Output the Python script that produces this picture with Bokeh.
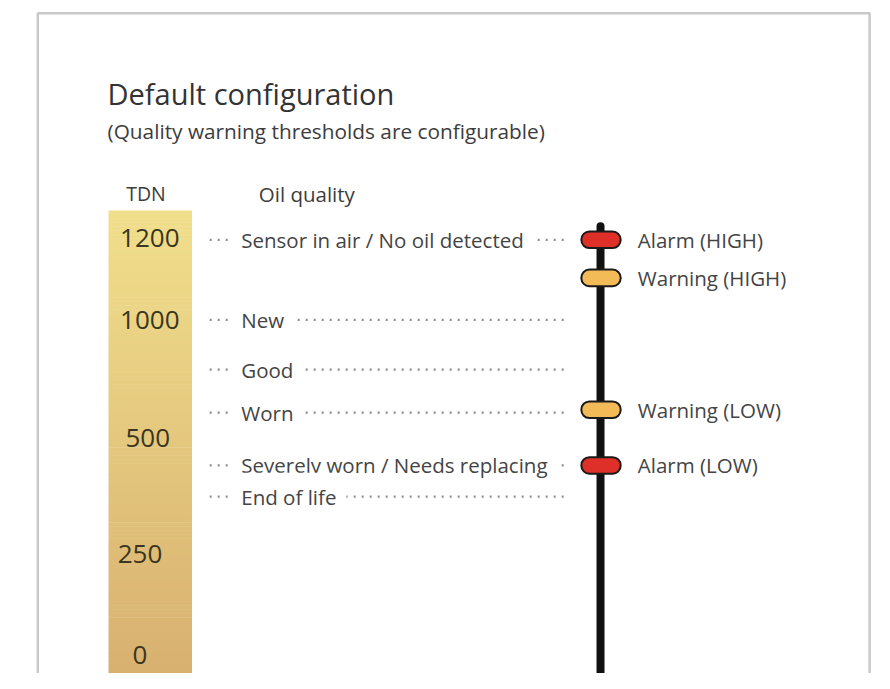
import numpy as np
from bokeh.plotting import figure
from bokeh.models import Range1d, ColumnDataSource
from bokeh.core.properties import value
from bokeh.embed import file_html
from bokeh.resources import INLINE

# ---------------- data ----------------
title_text = "Default configuration"
subtitle_text = "(Quality warning thresholds are configurable)"
col_headers = ["TDN", "Oil quality"]
tdn_ticks = ["1200", "1000", "500", "250", "0"]
quality_levels = ["Sensor in air / No oil detected", "New", "Good", "Worn",
                  "Severely worn / Needs replacing", "End of life"]
thresholds = ["Alarm (HIGH)", "Warning (HIGH)", "Warning (LOW)", "Alarm (LOW)"]
threshold_kind = ["alarm", "warning", "warning", "alarm"]

# ---------------- layout (reference pixel coordinates) ----------------
tick_y = [243, 327, 448, 567, 670]
tick_x = [152, 152, 150, 142, 142]
level_y = [245, 327, 378, 422, 476, 508]
threshold_y = [245, 284, 419, 476]
kind_color = {"alarm": "#de2f28", "warning": "#f2bb57"}

FONT = "Open Sans"
W, H = 874, 673
p = figure(width=W, height=H, output_backend="svg", toolbar_location=None,
           x_range=Range1d(0, 890), y_range=Range1d(689, 0),
           min_border=0, outline_line_color=None)
p.axis.visible = False
p.grid.visible = False
p.background_fill_color = "white"

# frame
p.quad(left=38, right=885, top=13, bottom=720, fill_color=None,
       line_color="#c9c9c9", line_width=2.5)

# gradient bar
n = 120
edges = np.linspace(215, 700, n + 1)
c0 = np.array([241, 223, 140])
c1 = np.array([216, 176, 112])
cols = []
for i in range(n):
    t = i / (n - 1)
    c = (c0 * (1 - t) + c1 * t).astype(int)
    cols.append("#%02x%02x%02x" % tuple(c))
p.quad(left=110, right=195, top=edges[:-1], bottom=edges[1:] + 0.5,
       fill_color=cols, line_color=None)

# title & subtitle
p.text(x=[109], y=[95], text=[title_text], text_font=value(FONT),
       text_font_size="29px", text_color="#333333", text_baseline="alphabetic")
p.text(x=[109], y=[134], text=[subtitle_text], text_font=value(FONT),
       text_font_size="20.8px", text_color="#3c3c3c", text_baseline="alphabetic")

# headers
p.text(x=[128], y=[198], text=[col_headers[0]], text_font=value(FONT),
       text_font_size="19.5px", text_color="#3c3c3c", text_baseline="alphabetic")
p.text(x=[263], y=[198], text=[col_headers[1]], text_font=value(FONT),
       text_font_size="20.5px", text_color="#3c3c3c", text_baseline="alphabetic")

# tdn ticks
p.text(x=tick_x, y=tick_y, text=tdn_ticks, text_font=value(FONT),
       text_font_size="26px", text_color="#3a3620", text_align="center",
       text_baseline="middle")

# dotted leader lines
p.segment(x0=[213] * len(level_y), x1=[578] * len(level_y), y0=level_y, y1=level_y,
          line_color="#8c8c8c", line_width=2.2, line_dash="2 6")
src = ColumnDataSource(dict(x=[235] * len(quality_levels), y=level_y, text=quality_levels))
p.text(x="x", y="y", text="text", source=src, text_font=value(FONT),
       text_font_size="20.5px", text_color="#444444", text_baseline="middle",
       background_fill_color="white", padding=10)

# vertical scale line
p.segment(x0=[611], x1=[611], y0=[231], y1=[720], line_color="#111111",
          line_width=8, line_cap="round")

# threshold markers
p.rect(x=[611.5] * len(threshold_y), y=threshold_y, width=40, height=17,
       fill_color=[kind_color[k] for k in threshold_kind], line_color="#1a1a1a",
       line_width=2, border_radius=8)
p.text(x=[649] * len(thresholds), y=threshold_y, text=thresholds, text_font=value(FONT),
       text_font_size="20.5px", text_color="#444444", text_baseline="middle")

open("out.html", "w").write(file_html(p, INLINE))
